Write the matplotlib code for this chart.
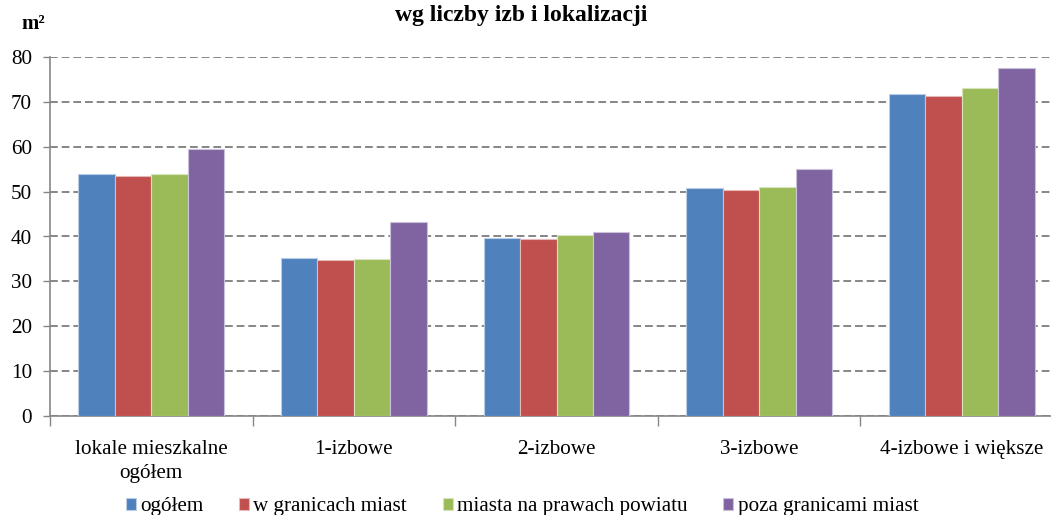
#!/usr/bin/env python3
import matplotlib
matplotlib.use("Agg")
import matplotlib.pyplot as plt
import numpy as np


CATEGORIES = ["lokale mieszkalne\nogółem", "1-izbowe", "2-izbowe", "3-izbowe",
              "4-izbowe i większe"]
SERIES = ["ogółem", "w granicach miast", "miasta na prawach powiatu",
          "poza granicami miast"]
OGOLEM = [53.9, 35.3, 39.7, 50.8, 71.8]
W_GRANICACH = [53.4, 34.8, 39.5, 50.4, 71.3]
MIASTA_NPP = [53.9, 34.9, 40.3, 51.0, 73.1]
POZA = [59.6, 43.2, 41.0, 55.1, 77.5]
Y_TICKS = [0, 10, 20, 30, 40, 50, 60, 70, 80]

COLORS = ["#4F81BD", "#C0504D", "#9BBB59", "#8064A2"]
EDGES = ["#b9cde5", "#e6b9b8", "#d7e4bd", "#ccc1da"]
FONT = ["Liberation Serif", "DejaVu Serif"]
FS = 15.2

plt.rcParams["font.family"] = FONT

W, H = 1051, 515
fig = plt.figure(figsize=(W / 100, H / 100), dpi=100)
# plot area runs slightly past the right edge of the picture, as in the source
left, right, bottom, top = 50, 1063, 416, 57
ax = fig.add_axes([left / W, (H - bottom) / H, (right - left) / W, (bottom - top) / H])

values = [OGOLEM, W_GRANICACH, MIASTA_NPP, POZA]
x = np.arange(len(CATEGORIES))
width = 0.18
for i, (name, vals) in enumerate(zip(SERIES, values)):
    ax.bar(x + (i - 1.5) * width, vals, width, color=COLORS[i],
           edgecolor=EDGES[i], linewidth=0.8, label=name, zorder=3)

ax.set_xlim(-0.5, len(CATEGORIES) - 0.5)
ax.set_ylim(0, 80)
ax.set_yticks(Y_TICKS)
ax.set_yticklabels([str(v) for v in Y_TICKS], fontsize=FS, family=FONT)
ax.yaxis.grid(True, color="#868686", linestyle=(0, (4, 2)), linewidth=1.4, zorder=0)
ax.set_axisbelow(True)

ax.set_xticks(x)
ax.set_xticklabels(CATEGORIES, fontsize=FS, family=FONT, linespacing=1.35)
ax.set_xticks(np.arange(len(CATEGORIES) + 1) - 0.5, minor=True)
ax.tick_params(axis="x", which="major", length=0, pad=17)
ax.tick_params(axis="x", which="minor", length=7, color="#868686", width=1)
ax.tick_params(axis="y", length=5, color="#868686", width=1, pad=8)

for side in ["top", "right"]:
    ax.spines[side].set_visible(False)
for side in ["left", "bottom"]:
    ax.spines[side].set_color("#868686")
    ax.spines[side].set_linewidth(1.2)

fig.text(521 / W, 1 - 16 / H, "wg liczby izb i lokalizacji", ha="center", va="center",
         fontsize=17, fontweight="bold", family=FONT)
fig.text(21 / W, 1 - 24 / H, "m²", ha="left", va="center", fontsize=15,
         fontweight="bold", family=FONT)

fig.legend(loc="center", bbox_to_anchor=(522 / W, 1 - 507 / H), ncol=4, frameon=False,
           prop={"family": FONT, "size": FS}, handlelength=0.47, handleheight=0.47,
           handletextpad=0.2, columnspacing=1.7, borderaxespad=0)

fig.savefig("out.png", dpi=100)
